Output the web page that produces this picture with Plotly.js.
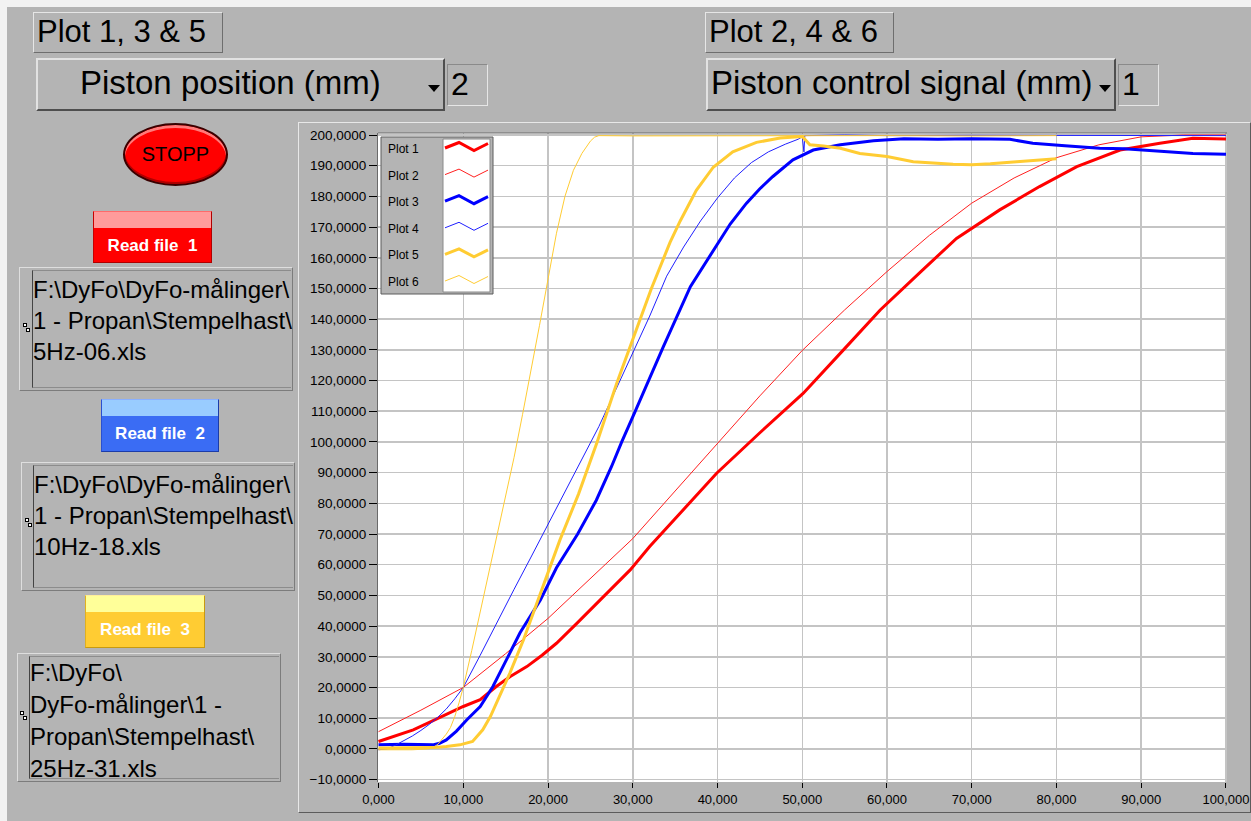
<!DOCTYPE html>
<html>
<head>
<meta charset="utf-8">
<script src="https://cdn.plot.ly/plotly-3.0.1.min.js"></script>
<style>
  body { margin:0; width:1251px; height:821px; background:#f2f2f2; overflow:hidden;
         font-family:"Liberation Sans", Arial, sans-serif; }
  #panel { position:absolute; left:7px; top:7px; width:1244px; height:814px; background:#b4b4b4; }
  .abs { position:absolute; box-sizing:border-box; }
  .tag { border:1px solid; border-color:#e6e6e6 #6e6e6e #6e6e6e #e6e6e6; font-size:31px;
         line-height:38px; padding-left:3px; color:#000; white-space:nowrap; }
  .ring { border:2px solid; border-color:#e2e2e2 #4e4e4e #4e4e4e #e2e2e2; font-size:33px;
          line-height:46px; color:#000; white-space:nowrap; }
  .arrow { width:0; height:0; border-left:6px solid transparent; border-right:6px solid transparent;
           border-top:7px solid #000; }
  .num { border:1px solid; border-color:#8a8a8a #e6e6e6 #e6e6e6 #8a8a8a; font-size:32px;
         line-height:38px; padding-left:3px; color:#000; }
  .stop { border-radius:50%; background:#ff0000; border:2px solid #3a0000;
          box-shadow: inset 0 3px 0 #ff7a7a, inset 0 -2px 0 #b00000;
          font-size:20px; color:#000; text-align:center; }
  .btn { border:1px solid; }
  .btn .band { position:absolute; left:0; top:0; right:0; height:16px; }
  .btn .cap { position:absolute; left:0; right:0; top:17px; bottom:0; text-align:center;
              font-weight:bold; font-size:17px; line-height:34px; color:#fff; white-space:pre; }
  .pathbox { border:1px solid; border-color:#dedede #7c7c7c #7c7c7c #dedede; }
  .pathbox .inner { position:absolute; top:2px; bottom:2px; right:1px;
                    border-left:1px solid #444; border-top:1px solid #8c8c8c; border-bottom:1px solid #8c8c8c;
                    font-size:24px; line-height:31px; color:#000; white-space:pre; padding-top:3px; }
  .pathbox .icon { position:absolute; width:4px; height:4px; border:1px solid #000; box-sizing:border-box; background:#fff; }
  #frame { position:absolute; left:298px; top:122px; width:953px; height:691px; box-sizing:border-box;
           border:1px solid; border-color:#e8e8e8 #5c5c5c #5c5c5c #e8e8e8; background:#b4b4b4; }
  #chart { position:absolute; left:0; top:0; width:951px; height:689px; }
</style>
</head>
<body>
<div id="panel"></div>

<!-- selector for the first group of plots -->
<div class="abs tag" style="left:33px;top:12px;width:190px;height:41px;">Plot 1, 3 &amp; 5</div>
<div class="abs ring" style="left:36px;top:58px;width:409px;height:53px;padding-left:42px;">Piston position (mm)</div>
<div class="abs arrow" style="left:428px;top:85px;"></div>
<div class="abs num" style="left:447px;top:64px;width:41px;height:42px;">2</div>

<!-- selector for the second group of plots -->
<div class="abs tag" style="left:705px;top:12px;width:189px;height:41px;">Plot 2, 4 &amp; 6</div>
<div class="abs ring" style="left:706px;top:58px;width:410px;height:53px;padding-left:3px;">Piston control signal (mm)</div>
<div class="abs arrow" style="left:1099px;top:85px;"></div>
<div class="abs num" style="left:1118px;top:64px;width:41px;height:42px;">1</div>

<!-- stop button -->
<div class="abs stop" style="left:123px;top:123px;width:105px;height:63px;line-height:59px;">STOPP</div>

<!-- file 1 -->
<div class="abs btn" style="left:93px;top:211px;width:119px;height:52px;background:#ff0000;border-color:#ff6a6a #b00000 #b00000 #c80000;">
  <div class="band" style="background:#ff9b9b;"></div>
  <div class="cap">Read file  1</div>
</div>
<div class="abs pathbox" style="left:19px;top:267px;width:274px;height:124px;">
  <div class="inner" style="left:12px;">F:\DyFo\DyFo-målinger\
1 - Propan\Stempelhast\
5Hz-06.xls</div>
  <div class="icon" style="left:3px;top:55px;"></div>
  <div class="icon" style="left:6px;top:60px;"></div>
</div>

<!-- file 2 -->
<div class="abs btn" style="left:101px;top:399px;width:118px;height:53px;background:#3a6cf4;border-color:#8ab0ff #1c3ca8 #1c3ca8 #2a50d0;">
  <div class="band" style="background:#99ccff;"></div>
  <div class="cap">Read file  2</div>
</div>
<div class="abs pathbox" style="left:21px;top:462px;width:274px;height:129px;">
  <div class="inner" style="left:11px;">F:\DyFo\DyFo-målinger\
1 - Propan\Stempelhast\
10Hz-18.xls</div>
  <div class="icon" style="left:3px;top:55px;"></div>
  <div class="icon" style="left:6px;top:60px;"></div>
</div>

<!-- file 3 -->
<div class="abs btn" style="left:85px;top:595px;width:120px;height:53px;background:#ffcc33;border-color:#ffee99 #c89a10 #c89a10 #e0b020;">
  <div class="band" style="background:#ffff99;"></div>
  <div class="cap">Read file  3</div>
</div>
<div class="abs pathbox" style="left:17px;top:653px;width:264px;height:129px;">
  <div class="inner" style="left:11px;line-height:32px;padding-top:0px;">F:\DyFo\
DyFo-målinger\1 -
Propan\Stempelhast\
25Hz-31.xls</div>
  <div class="icon" style="left:2px;top:57px;"></div>
  <div class="icon" style="left:5px;top:62px;"></div>
</div>

<div id="frame"><div id="chart"></div></div>

<script>
// Piston position (thick) and piston control signal (thin) for the three files.
// x: time axis, y: millimetres.

// Plot 1 – 5Hz-06, piston position
const plot1X = [0, 2, 4.1, 6, 8.4, 10, 12, 13.9, 15.5, 17.5, 19.3, 21, 23.4, 26.5, 29.7, 32, 36, 39.9, 45, 50.1, 55, 59.2, 64, 68.2, 73.3, 78, 82.4, 87.5, 92.2, 96.1, 100];
const plot1Y = [2.4, 4.2, 6.2, 8.6, 11.6, 13.8, 16, 20.3, 23.5, 26.8, 30.5, 34.4, 40.9, 49.6, 58.3, 65.9, 78, 89.8, 103, 115.8, 130.4, 143, 155.5, 166.3, 175.6, 183.2, 189.7, 195.1, 197.3, 198.9, 198.7];

// Plot 2 – 5Hz-06, control signal
const plot2X = [0, 5, 10, 15, 20, 25, 30, 35, 40, 45, 50, 55, 60, 65, 70, 75, 80, 85, 90, 95, 100];
const plot2Y = [5.6, 12.6, 20, 31, 42.5, 55.5, 68.5, 84, 99.6, 115, 129.8, 143, 155.5, 167.3, 177.8, 186, 192.6, 196.8, 199.4, 200, 200];

// Plot 3 – 10Hz-18, piston position
const plot3X = [0, 3, 6.4, 7.2, 8, 9.2, 10.4, 12, 13.5, 15.1, 16.7, 19.1, 21, 23.5, 25.7, 27.5, 28.7, 30.3, 33.6, 36.8, 39.7, 41.5, 43.4, 45, 46.5, 48.9, 51.3, 54.5, 58.4, 62, 66, 70, 74.5, 77.2, 81, 85.1, 88, 92.2, 96.1, 100];
const plot3Y = [1.3, 1.5, 1.3, 1.8, 2.9, 5.8, 9.4, 13.8, 20.3, 29, 37.8, 48.5, 59, 70, 81, 92, 100, 110, 131, 150.6, 163, 171, 177.7, 182.5, 186.4, 191.9, 195.1, 196.8, 198.1, 198.8, 198.6, 198.8, 198.6, 197.3, 196.5, 195.7, 195.5, 194.6, 194, 193.7];

// Plot 4 – 10Hz-18, control signal
const plot4X = [0, 1, 2, 3, 4, 5, 6, 7, 8, 9, 10, 12, 14, 16, 18, 20, 22, 24, 26, 28, 30, 32, 34, 36, 38, 40, 42, 44, 46, 48, 49.5, 50, 50.2, 50.3, 55, 60, 70, 80, 90, 100];
const plot4Y = [-0.3, 0, 1.2, 2.6, 4.2, 6, 8, 10.3, 13, 16.3, 20, 30.5, 41.5, 52, 62.5, 73, 83.5, 94, 105, 117, 129, 141, 154, 163.5, 172, 179.5, 186, 191, 194.5, 197, 198.6, 199.4, 194.5, 199.8, 200, 199.8, 199.9, 199.8, 199.9, 199.8];

// Plot 5 – 25Hz-31, piston position
const plot5X = [0, 3, 6.4, 8, 9.6, 11.1, 12.3, 13.2, 14.1, 15.5, 17.1, 19.3, 21.4, 23.6, 25.8, 28.1, 29.7, 32.2, 34.4, 35.6, 37.5, 39.5, 41.8, 44.6, 47.4, 50, 50.5, 50.9, 52.5, 54.5, 56.8, 60, 63.1, 65.5, 67.8, 70, 72.2, 75.3, 78.8, 80];
const plot5Y = [0.3, 0.4, 0.4, 0.8, 1.3, 2.4, 6.2, 10.5, 16, 24.7, 35.5, 52, 68, 83, 100, 119, 131, 150, 165, 172, 182, 189.5, 194.5, 197.6, 199, 199.5, 198, 196.8, 196.4, 195.7, 194, 193, 191.3, 190.8, 190.5, 190.3, 190.6, 191.3, 192, 192.3];

// Plot 6 – 25Hz-31, control signal
const plot6X = [0, 4, 6, 6.5, 7, 7.5, 8, 8.5, 9, 9.5, 10, 11, 12, 13, 14, 15, 16, 17, 18, 19, 20, 21, 22, 23, 24, 25, 25.5, 26, 30, 40, 50, 60, 70, 80];
const plot6Y = [-0.3, -0.3, 0, 0.5, 1.5, 3, 4.8, 7, 10.5, 15, 20, 32, 44.5, 57, 69.5, 82, 95, 109, 123, 138, 153, 168, 180, 188.5, 194, 198, 199.3, 199.8, 199.7, 199.8, 199.7, 199.8, 199.7, 199.8];

const plotNames = ['Plot 1', 'Plot 2', 'Plot 3', 'Plot 4', 'Plot 5', 'Plot 6'];
const xTickStep = 10;
const yTickStep = 10;

// line styling per plot
const lineColors = ['#ff0000', '#ff2020', '#0000ff', '#2020ff', '#ffcc33', '#ffcc33'];
const lineWidths = [3, 1, 3, 1, 3, 1];

const xs = [plot1X, plot2X, plot3X, plot4X, plot5X, plot6X];
const ys = [plot1Y, plot2Y, plot3Y, plot4Y, plot5Y, plot6Y];

const traces = plotNames.map((name, i) => ({
  type: 'scatter', mode: 'lines', name: name,
  x: xs[i], y: ys[i],
  line: { color: lineColors[i], width: lineWidths[i] },
  showlegend: false, hoverinfo: 'skip'
}));

// plot-area geometry (pixels inside the chart div)
const M = { l: 79, r: 23, t: 10, b: 30 };
const W = 951, H = 689;
const PW = W - M.l - M.r, PH = H - M.t - M.b;
// page pixel -> paper fraction (chart div sits at 299,123 on the page)
const px = v => (v - 299 - M.l) / PW;
const py = v => (123 + M.t + PH - v) / PH;

// legend box with zig-zag swatches
const shapes = [];
const annotations = [];
const LG = { x0: 381, x1: 493, y0: 137, y1: 294, sw0: 443, sw1: 490 };
shapes.push({ type: 'rect', xref: 'paper', yref: 'paper', layer: 'above',
  x0: px(LG.x0), x1: px(LG.x1), y0: py(LG.y1), y1: py(LG.y0),
  fillcolor: '#b4b4b4', line: { color: '#5c5c5c', width: 1 } });
shapes.push({ type: 'rect', xref: 'paper', yref: 'paper', layer: 'above',
  x0: px(LG.sw0), x1: px(LG.sw1), y0: py(LG.y1 - 2), y1: py(LG.y0 + 2),
  fillcolor: '#ffffff', line: { color: '#8a8a8a', width: 1 } });
plotNames.forEach((name, i) => {
  const cy = 148 + i * 26.6;
  const pts = [[445, cy], [459, cy - 5.5], [474, cy + 2.5], [488, cy - 4.5]];
  const d = 'M ' + pts.map(p => px(p[0]) + ',' + py(p[1])).join(' L ');
  shapes.push({ type: 'path', xref: 'paper', yref: 'paper', layer: 'above', path: d,
    line: { color: lineColors[i], width: lineWidths[i] } });
  annotations.push({ xref: 'paper', yref: 'paper', x: px(386), y: py(cy + 1),
    xanchor: 'left', yanchor: 'middle', showarrow: false, text: name,
    font: { family: 'Liberation Sans, Arial, sans-serif', size: 12, color: '#000' } });
});

// sunken edge along the top of the plotting area
shapes.push({ type: 'line', xref: 'paper', yref: 'paper', layer: 'above',
  x0: 0, x1: 1, y0: 1, y1: 1, line: { color: '#6a6a6a', width: 1 } });

const layout = {
  width: W, height: H,
  margin: M,
  paper_bgcolor: '#b4b4b4',
  plot_bgcolor: '#ffffff',
  separators: ', ',
  font: { family: 'Liberation Sans, Arial, sans-serif', size: 13, color: '#000' },
  xaxis: {
    range: [-0.06, 100.12], dtick: xTickStep, tick0: 0, tickformat: '.3f',
    ticks: 'outside', ticklen: 5, tickcolor: '#000', tickwidth: 1,
    showgrid: true, gridcolor: '#c4c4c4', gridwidth: 1.5, zeroline: false,
    showline: false, tickfont: { size: 13, color: '#000' }
  },
  yaxis: {
    range: [-10.8, 200.65], dtick: yTickStep, tick0: 0, tickformat: '.4f',
    ticks: 'outside', ticklen: 8, tickcolor: '#000', tickwidth: 1,
    showgrid: true, gridcolor: '#c4c4c4', gridwidth: 1.5, zeroline: false,
    showline: true, linecolor: '#6a6a6a', linewidth: 1,
    tickfont: { size: 13.5, color: '#000' }
  },
  shapes: shapes,
  annotations: annotations,
  showlegend: false
};

Plotly.newPlot('chart', traces, layout, { staticPlot: true, displayModeBar: false });
</script>
</body>
</html>
